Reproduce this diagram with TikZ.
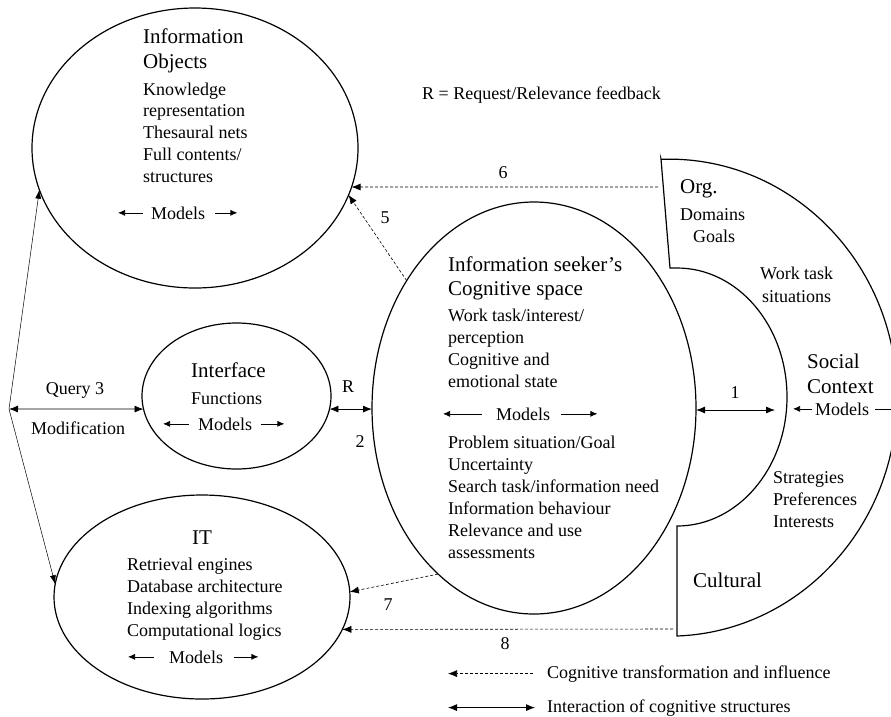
\documentclass[tikz,border=0pt]{standalone}
\usepackage{fontspec}
\setmainfont{Liberation Serif}
\usetikzlibrary{arrows.meta,positioning,calc,shapes.geometric}

\tikzset{
  blob/.style={draw,ellipse,line width=1.2pt,inner sep=0pt,outer sep=0pt},
  ttl/.style={font=\fontsize{21}{25}\selectfont,inner sep=0pt,anchor=base west},
  txt/.style={font=\fontsize{18}{22}\selectfont,inner sep=0pt,anchor=base west},
  num/.style={font=\fontsize{18}{22}\selectfont,inner sep=0pt},
  infl/.style={-{Latex[length=9pt,width=7pt]},dash pattern=on 3pt off 2pt,line width=0.6pt},
  inter/.style={{Latex[length=9pt,width=7pt]}-{Latex[length=9pt,width=7pt]},line width=0.8pt},
  qline/.style={-{Latex[length=9pt,width=6pt]},line width=0.5pt},
  mdl/.style={-{Latex[length=7pt,width=6pt]},line width=0.7pt},
}

\begin{document}
\begin{tikzpicture}[x=1pt,y=1pt,>=Latex]
  \useasboundingbox (0,0) rectangle (891,-716);

  \node[blob,minimum width=326pt,minimum height=280pt] (io) at (195,-148) {};
  \node[blob,minimum width=189pt,minimum height=146pt] (if) at (236.5,-396) {};
  \node[blob,minimum width=296pt,minimum height=204pt] (it) at (202,-597) {};
  \node[blob,minimum width=324pt,minimum height=412pt] (cs) at (534,-408) {};

  % social context
  \draw[line width=1.2pt] (661,-159) -- (670,-268) -- (677,-268)
    arc[start angle=90,end angle=-90,x radius=110,y radius=129] -- (677,-636)
    arc[start angle=-88,end angle=92,x radius=228,y radius=238.5] -- cycle;

  % information objects
  \node[ttl] (io-t1) at (143,-43) {Information};
  \node[ttl] (io-t2) at (143,-68) {Objects};
  \foreach \s [count=\i] in {Knowledge,representation,Thesaural nets,Full contents/,structures}
    \node[txt] (io-\i) at (143,{-95-21.8*(\i-1)}) {\s};
  \node[txt] (io-m) at (151,-219) {Models};
  \draw[mdl] ([xshift=-8pt]io-m.west) -- ([xshift=-33pt]io-m.west);
  \draw[mdl] ([xshift=10pt]io-m.east) -- ([xshift=32pt]io-m.east);

  % interface
  \node[ttl] (if-t) at (191,-377) {Interface};
  \node[txt] (if-1) at (191,-404) {Functions};
  \node[txt] (if-m) at (198,-430) {Models};
  \draw[mdl] ([xshift=-9pt]if-m.west) -- ([xshift=-35pt]if-m.west);
  \draw[mdl] ([xshift=9pt]if-m.east) -- ([xshift=32pt]if-m.east);

  % IT
  \node[ttl,anchor=base] (it-t) at (202,-544) {IT};
  \foreach \s [count=\i] in {Retrieval engines,Database architecture,Indexing algorithms,Computational logics}
    \node[txt] (it-\i) at (127,{-570-22*(\i-1)}) {\s};
  \node[txt] (it-m) at (169,-663) {Models};
  \draw[mdl] ([xshift=-15pt]it-m.west) -- ([xshift=-41pt]it-m.west);
  \draw[mdl] ([xshift=11pt]it-m.east) -- ([xshift=35pt]it-m.east);

  % cognitive space
  \node[ttl] (cs-t1) at (448,-271) {Information seeker’s};
  \node[ttl] (cs-t2) at (448,-295) {Cognitive space};
  \foreach \s [count=\i] in {Work task/interest/,perception,Cognitive and,emotional state}
    \node[txt] (cs-a\i) at (448,{-321-22*(\i-1)}) {\s};
  \node[txt] (cs-m) at (496,-420) {Models};
  \draw[mdl] ([xshift=-14pt]cs-m.west) -- ([xshift=-53pt]cs-m.west);
  \draw[mdl] ([xshift=11pt]cs-m.east) -- ([xshift=47pt]cs-m.east);
  \foreach \s [count=\i] in {Problem situation/Goal,Uncertainty,Search task/information need,Information behaviour,Relevance and use,assessments}
    \node[txt] (cs-b\i) at (448,{-448-22*(\i-1)}) {\s};

  % social context texts
  \node[ttl] (org) at (680,-193) {Org.};
  \node[txt] (org-1) at (680,-220) {Domains};
  \node[txt] (org-2) at (693,-242) {Goals};
  \node[txt] (wt-1) at (760,-279) {Work task};
  \node[txt] (wt-2) at (762,-302) {situations};
  \node[ttl] (sc-1) at (807,-368) {Social};
  \node[ttl] (sc-2) at (807,-393) {Context};
  \node[txt] (sc-m) at (815,-415) {Models};
  \draw[mdl] ([xshift=-3pt]sc-m.west) -- ([xshift=-22pt]sc-m.west);
  \draw[mdl] ([xshift=6pt]sc-m.east) -- ([xshift=30pt]sc-m.east);
  \foreach \s [count=\i] in {Strategies,Preferences,Interests}
    \node[txt] (st-\i) at (773,{-483-22*(\i-1)}) {\s};
  \node[ttl] (cul) at (693,-587) {Cultural};

  \node[txt] (note) at (422,-99) {R = Request/Relevance feedback};

  % interaction
  \coordinate (q) at (9,-409);
  \draw[inter] (q) -- (if.188);
  \draw[qline] (q) -- (io.195);
  \draw[qline] (q) -- (it.175);
  \node[num] (q-1) at (75,-390) {Query 3};
  \node[num] (q-2) at (78,-428) {Modification};

  \draw[inter] (if.352) -- (if.352 -| cs.west);
  \node[num] (r) at (348,-387) {R};
  \node[num] (n2) at (360,-442) {2};

  \coordinate (e1) at (775,-410);
  \draw[inter] (cs.east |- e1) -- (e1);
  \node[num] (n1) at (735,-393) {1};

  % influence
  \coordinate (s6) at (658,-187);
  \draw[infl] (s6) -- (io.346);
  \node[num] (n6) at (503,-173) {6};
  \draw[infl] (cs.135) -- (io.343);
  \node[num] (n5) at (385,-218) {5};
  \draw[infl] (cs.240) -- (it.2);
  \node[num] (n7) at (388,-605) {7};
  \coordinate (s8) at (673,-629);
  \draw[infl] (s8) -- (it.347);
  \node[num] (n8) at (505,-644) {8};

  % legend
  \node[txt] (lg-a) at (547,-678) {Cognitive transformation and influence};
  \draw[infl] ([xshift=-14pt]lg-a.west) -- ([xshift=-99pt]lg-a.west);
  \node[txt] (lg-b) at (547,-712) {Interaction of cognitive structures};
  \draw[inter] ([xshift=-12pt]lg-b.west) -- ([xshift=-99pt]lg-b.west);
\end{tikzpicture}
\end{document}
